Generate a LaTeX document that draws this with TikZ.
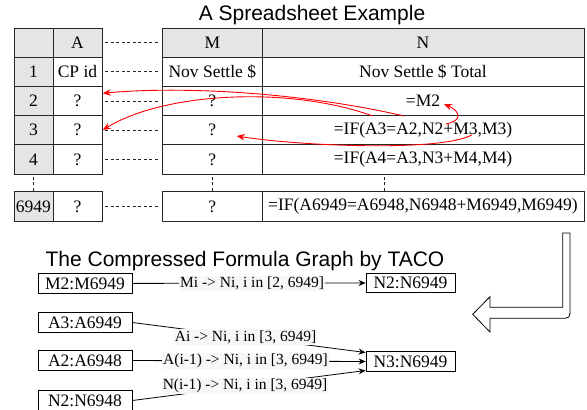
\documentclass[tikz,border=0pt]{standalone}
\usepackage{fontspec}
\setmainfont{Liberation Serif}
\newfontfamily\arialf{Liberation Sans}
\usetikzlibrary{arrows.meta}
\begin{document}
\begin{tikzpicture}[x=1pt,y=-1pt,
 cell/.style={draw=black!85, line width=0.8pt, inner sep=0pt, minimum height=29.2pt, font=\fontsize{17.5}{17.5}\selectfont},
 gcell/.style={cell, fill=black!10},
 cR/.style={minimum width=39pt},
 cA/.style={minimum width=49pt},
 cM/.style={minimum width=99.3pt},
 cN/.style={minimum width=322pt},
 link/.style={dash pattern=on 3pt off 2.5pt, line width=0.7pt, black!85},
 redarr/.style={red, line width=0.9pt, -{Stealth[length=8pt,width=6.5pt]}},
 box/.style={draw=black, line width=0.8pt, fill=white, inner sep=0pt, minimum width=94pt, minimum height=19.5pt, font=\fontsize{17.5}{17.5}\selectfont},
 edgeline/.style={line width=0.8pt, black},
 arr/.style={edgeline, -{Stealth[length=7pt,width=6pt]}},
 elabel/.style={fill=black!3, inner sep=1pt, font=\fontsize{15.5}{15.5}\selectfont},
 title/.style={font=\arialf\fontsize{21}{21}\selectfont, anchor=base}
]
\useasboundingbox (0,0) rectangle (587,410);

% titles
\node[title] (t-top) at (312,20.7) {A Spreadsheet Example};
\node[title] (t-bot) at (245,266.7) {The Compressed Formula Graph by TACO};

% header row
\node[gcell,cR] (h0) at (33.5,42.6) {};
\node[gcell,cA] (hA) at (77.5,42.6) {A};
\node[gcell,cM] (hM) at (212.35,42.6) {M};
\node[gcell,cN] (hN) at (423,42.6) {N};
% row 1
\node[gcell,cR] (r1) at (33.5,71.8) {1};
\node[cell,cA] (a1) at (77.5,71.8) {CP id};
\node[cell,cM] (m1) at (212.35,71.8) {Nov Settle \$};
\node[cell,cN] (n1) at (423,71.8) {Nov Settle \$ Total};
% row 2
\node[gcell,cR] (r2) at (33.5,101) {2};
\node[cell,cA] (a2) at (77.5,101) {?};
\node[cell,cM] (m2) at (212.35,101) {?};
\node[cell,cN] (n2) at (423,101) {=M2};
% row 3
\node[gcell,cR] (r3) at (33.5,130.2) {3};
\node[cell,cA] (a3) at (77.5,130.2) {?};
\node[cell,cM] (m3) at (212.35,130.2) {?};
\node[cell,cN] (n3) at (423,130.2) {=IF(A3=A2,N2+M3,M3)};
% row 4
\node[gcell,cR] (r4) at (33.5,159.4) {4};
\node[cell,cA] (a4) at (77.5,159.4) {?};
\node[cell,cM] (m4) at (212.35,159.4) {?};
\node[cell,cN] (n4) at (423,159.4) {=IF(A4=A3,N3+M4,M4)};
% row 6949
\node[gcell,cR] (r9) at (33.5,206.4) {6949};
\node[cell,cA] (a9) at (77.5,206.4) {?};
\node[cell,cM] (m9) at (212.35,206.4) {?};
\node[cell,cN] (n9) at (423,206.4) {=IF(A6949=A6948,N6948+M6949,M6949)};

% dashed links between the column pieces
\foreach \s/\t in {hA/hM,a1/m1,a2/m2,a3/m3,a4/m4,a9/m9}{
  \draw[link] ([xshift=3pt]\s.east) -- ([xshift=-2pt]\t.west);
}
\draw[link] ([yshift=-2.5pt]r4.south) -- (r9.north);
\draw[link] ([yshift=-2.5pt]m4.south) -- (m9.north);
\coordinate (nd1) at (384,176.5);
\coordinate (nd2) at (384,192);
\draw[link] (nd1) -- (nd2);

% red dependency arrows
\coordinate (fA2) at (404,116);
\coordinate (tA2) at (102.7,93.3);
\coordinate (fA3) at (372.7,116);
\coordinate (tA3) at (102.7,130);
\coordinate (fM3) at (471.7,135);
\coordinate (tM3) at (236.7,136);
\coordinate (fN2) at (446,124);
\coordinate (tM2) at (444,104);
\draw[redarr] (fA2) .. controls (300,92) and (180,86) .. (tA2);
\draw[redarr] (fA3) .. controls (290,86) and (165,92) .. (tA3);
\draw[redarr] (fM3) .. controls (440,152) and (300,146) .. (tM3);
\draw[redarr] (fN2) .. controls (465,120) and (458,110) .. (tM2);

% big hollow arrow
\draw[line width=0.8pt, fill=white] (562.7,233) -- (562.7,307.3) -- (490,307.3) -- (490,296.7) -- (472.7,314.3) -- (490,332) -- (490,318.3) -- (560,318.3) .. controls (570,318.3) .. (570,308.3) -- (570,233) -- cycle;

% compressed graph
\node[box] (b1) at (85,283.4) {M2:M6949};
\node[box] (b2) at (85,322.5) {A3:A6949};
\node[box] (b3) at (85,360.5) {A2:A6948};
\node[box] (b4) at (85,400.5) {N2:N6948};
\node[box, minimum width=89pt] (t1) at (410.5,283) {N2:N6949};
\node[box, minimum width=89pt] (t2) at (410.5,361.5) {N3:N6949};

\draw[arr] (b1.east) -- node[elabel,pos=0.513]{Mi -> Ni, i in [2, 6949]} (t1.west);
\draw[arr] (b2.east) -- node[elabel,pos=0.485]{Ai -> Ni, i in [3, 6949]} ([yshift=9pt]t2.west);
\draw[arr] (b3.east) -- node[elabel,pos=0.485]{A(i-1) -> Ni, i in [3, 6949]} (t2.west);
\draw[arr] (b4.east) -- node[elabel,pos=0.483]{N(i-1) -> Ni, i in [3, 6949]} ([yshift=-9pt]t2.west);
\end{tikzpicture}
\end{document}
